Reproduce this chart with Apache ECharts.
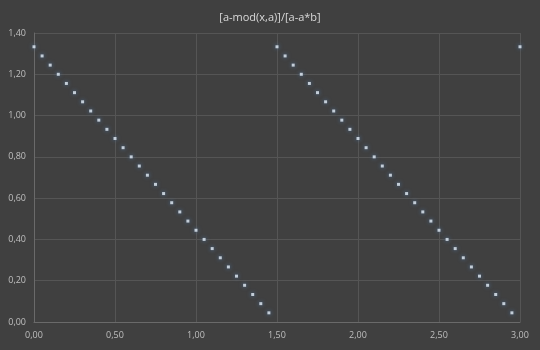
<!DOCTYPE html>
<html><head><meta charset="utf-8">
<script src="https://cdn.jsdelivr.net/npm/echarts@6/dist/echarts.min.js"></script>
<style>html,body{margin:0;padding:0;background:#404040;}#c{width:540px;height:350px;}</style>
</head><body><div id="c"></div>
<script>
var titleText = '[a-mod(x,a)]/[a-a*b]';
var xValues = [0.00,0.05,0.10,0.15,0.20,0.25,0.30,0.35,0.40,0.45,0.50,0.55,0.60,0.65,0.70,0.75,0.80,0.85,0.90,0.95,1.00,1.05,1.10,1.15,1.20,1.25,1.30,1.35,1.40,1.45,
  1.50,1.55,1.60,1.65,1.70,1.75,1.80,1.85,1.90,1.95,2.00,2.05,2.10,2.15,2.20,2.25,2.30,2.35,2.40,2.45,2.50,2.55,2.60,2.65,2.70,2.75,2.80,2.85,2.90,2.95,3.00];
var yValues = [1.3333,1.2889,1.2444,1.2000,1.1556,1.1111,1.0667,1.0222,0.9778,0.9333,0.8889,0.8444,0.8000,0.7556,0.7111,0.6667,0.6222,0.5778,0.5333,0.4889,0.4444,0.4000,0.3556,0.3111,0.2667,0.2222,0.1778,0.1333,0.0889,0.0444,
  1.3333,1.2889,1.2444,1.2000,1.1556,1.1111,1.0667,1.0222,0.9778,0.9333,0.8889,0.8444,0.8000,0.7556,0.7111,0.6667,0.6222,0.5778,0.5333,0.4889,0.4444,0.4000,0.3556,0.3111,0.2667,0.2222,0.1778,0.1333,0.0889,0.0444,1.3333];
var fmt = function(v){ return v.toFixed(2).replace('.', ','); };
var pts = xValues.map(function(x,i){ return [x, yValues[i]]; });
var chart = echarts.init(document.getElementById('c'));
chart.setOption({
  backgroundColor: '#404040',
  animation: false,
  title: { text: titleText, left: 'center', top: 7,
    textStyle: { color: '#d9d9d9', fontSize: 11, fontWeight: 'normal', fontFamily: 'Open Sans' } },
  grid: { left: 34, right: 20, top: 33, bottom: 28 },
  xAxis: { type: 'value', min: 0, max: 3, interval: 0.5,
    axisLine: { show: true, onZero: false, lineStyle: { color: '#6a6a6a' } },
    axisTick: { show: false },
    splitLine: { show: true, lineStyle: { color: '#555555' } },
    axisLabel: { color: '#bfbfbf', fontSize: 9, fontFamily: 'Open Sans', formatter: fmt, margin: 9 } },
  yAxis: { type: 'value', min: 0, max: 1.4, interval: 0.2,
    axisLine: { show: true, lineStyle: { color: '#6a6a6a' } },
    axisTick: { show: false },
    splitLine: { show: true, lineStyle: { color: '#555555' } },
    axisLabel: { color: '#bfbfbf', fontSize: 9, fontFamily: 'Open Sans', formatter: fmt, margin: 8 } },
  series: [{ type: 'scatter', data: pts, symbol: 'rect', symbolSize: 3,
    itemStyle: { color: '#e4eef8', shadowBlur: 4, shadowColor: 'rgba(80,140,210,0.9)' } }]
});
</script></body></html>
